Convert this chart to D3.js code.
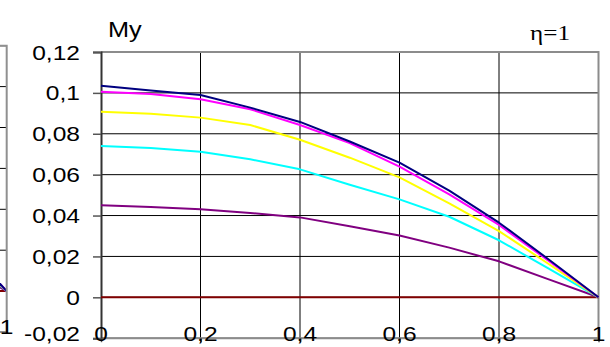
<!DOCTYPE html>
<html>
<head>
<meta charset="utf-8">
<script src="https://cdn.jsdelivr.net/npm/d3@7"></script>
<style>
  html, body { margin: 0; padding: 0; background: #fff; }
  svg { display: block; }
</style>
</head>
<body>
<svg id="chart" width="610" height="347"></svg>
<script>
// Bending moment My along the span, plate with eta = 1
const xs = [0, 0.1, 0.2, 0.3, 0.4, 0.5, 0.6, 0.7, 0.8, 0.9, 1];
const myNavy    = [0.1035, 0.1012, 0.0990, 0.0928, 0.0858, 0.0762, 0.0659, 0.0522, 0.0365, 0.0185, 0];
const myMagenta = [0.1005, 0.0994, 0.0969, 0.0920, 0.0843, 0.0754, 0.0639, 0.0504, 0.0354, 0.0178, 0];
const myYellow  = [0.0908, 0.0898, 0.0879, 0.0843, 0.0771, 0.0683, 0.0587, 0.0460, 0.0324, 0.0163, 0];
const myCyan    = [0.0740, 0.0730, 0.0712, 0.0675, 0.0626, 0.0551, 0.0479, 0.0394, 0.0279, 0.0140, 0];
const myPurple  = [0.0450, 0.0442, 0.0431, 0.0413, 0.0391, 0.0348, 0.0302, 0.0243, 0.0176, 0.0088, 0];
const myZero    = [0, 0, 0, 0, 0, 0, 0, 0, 0, 0, 0];

// Right end of the neighbouring panel (only its last stretch is in view)
const nbXs      = [0.9, 1];
const nbNavy    = [0.027, 0];
const nbMagenta = [0.026, 0];
const nbYellow  = [0.024, 0];
const nbCyan    = [0.021, 0];
const nbPurple  = [0.014, 0];
const nbZero    = [0, 0];

const xTicks = [0, 0.2, 0.4, 0.6, 0.8, 1];
const xTickLabels = ["0", "0,2", "0,4", "0,6", "0,8", "1"];
const yTicks = [-0.02, 0, 0.02, 0.04, 0.06, 0.08, 0.1, 0.12];
const yTickLabels = ["-0,02", "0", "0,02", "0,04", "0,06", "0,08", "0,1", "0,12"];

const seriesColors = ["#800000", "#800080", "#00FFFF", "#FFFF00", "#FF00FF", "#000080"];
const mainSeries = [myZero, myPurple, myCyan, myYellow, myMagenta, myNavy];
const nbSeries = [nbZero, nbPurple, nbCyan, nbYellow, nbMagenta, nbNavy];

const svg = d3.select("#chart");
const SANS = "Liberation Sans, Arial, sans-serif";
const SERIF = "Liberation Serif, Times New Roman, serif";
const SX = 1.17; // labels are drawn slightly wide

function label(g, x, y, txt, anchor, size, family, sx) {
  return g.append("text")
    .attr("transform", `translate(${x},${y}) scale(${sx},1)`)
    .attr("text-anchor", anchor)
    .attr("font-family", family)
    .attr("font-size", size)
    .attr("fill", "#000")
    .text(txt);
}

// ---------- neighbouring panel ----------
{
  const x = d3.scaleLinear().domain([0, 1]).range([6.7 - 497.5, 6.7]);
  const y = d3.scaleLinear().domain([-0.02, 0.12]).range([332, 45.7]);
  const g = svg.append("g");
  svg.append("clipPath").attr("id", "nbclip")
    .append("rect").attr("x", 0).attr("y", y(0.12))
    .attr("width", x(1)).attr("height", y(-0.02) - y(0.12));
  const inner = g.append("g").attr("clip-path", "url(#nbclip)");
  inner.selectAll("line").data(yTicks).join("line")
    .attr("x1", x(0)).attr("x2", x(1))
    .attr("y1", d => y(d)).attr("y2", d => y(d))
    .attr("stroke", "#000").attr("stroke-width", 1);
  const line = d3.line().x((d, i) => x(nbXs[i])).y(d => y(d));
  nbSeries.forEach((s, k) => {
    inner.append("path").attr("d", line(s)).attr("fill", "none")
      .attr("stroke", seriesColors[k]).attr("stroke-width", 2);
  });
  g.append("path")
    .attr("d", `M${x(0)},${y(0.12)} H${x(1)} V${y(-0.02)} H${x(0)}`)
    .attr("fill", "none").attr("stroke", "#909090").attr("stroke-width", 2);
  label(g, x(1), 334, "1", "middle", 21, SANS, SX);
}

// ---------- main panel ----------
const x = d3.scaleLinear().domain([0, 1]).range([101, 598.5]);
const y = d3.scaleLinear().domain([-0.02, 0.12]).range([338.2, 52]);
const g = svg.append("g");

// horizontal gridlines
g.selectAll("line.hg").data(yTicks).join("line").attr("class", "hg")
  .attr("x1", x(0)).attr("x2", x(1))
  .attr("y1", d => y(d)).attr("y2", d => y(d))
  .attr("stroke", "#000").attr("stroke-width", 1);

// vertical gridlines
g.selectAll("line.vg").data(xTicks.slice(1, -1)).join("line").attr("class", "vg")
  .attr("x1", d => x(d)).attr("x2", d => x(d))
  .attr("y1", y(0.12)).attr("y2", y(-0.02))
  .attr("stroke", "#000").attr("stroke-width", 1);

// plot frame (top, right, bottom)
g.append("path")
  .attr("d", `M${x(0)},${y(0.12)} H${x(1)} V${y(-0.02)} H${x(0)}`)
  .attr("fill", "none").attr("stroke", "#8c8c8c").attr("stroke-width", 2);

// y axis with ticks
const yAxis = d3.axisLeft(y).tickValues(yTicks).tickSize(8).tickFormat("");
const ya = g.append("g").attr("transform", `translate(${x(0)},0)`).call(yAxis);
ya.select(".domain").attr("stroke", "#333").attr("stroke-width", 2);
ya.selectAll(".tick line").attr("stroke", "#555").attr("stroke-width", 1.5);

// x axis ticks below the frame
const xAxis = d3.axisBottom(x).tickValues(xTicks).tickSize(4).tickFormat("");
const xa = g.append("g").attr("transform", `translate(0,${y(-0.02)})`).call(xAxis);
xa.select(".domain").remove();
xa.selectAll(".tick line").attr("stroke", "#555").attr("stroke-width", 1.5);

// series
const line = d3.line().x((d, i) => x(xs[i])).y(d => y(d));
mainSeries.forEach((s, k) => {
  g.append("path").attr("d", line(s)).attr("fill", "none")
    .attr("stroke", seriesColors[k]).attr("stroke-width", 2)
    .attr("stroke-linejoin", "round");
});

// tick labels (the lowest one is kept inside the canvas)
yTicks.forEach((v, i) => {
  label(g, 80, Math.min(y(v) + 7.5, 340.5), yTickLabels[i], "end", 21, SANS, SX);
});
xTicks.forEach((v, i) => {
  label(g, x(v), 340.5, xTickLabels[i], "middle", 21, SANS, SX);
});

// titles
label(g, 108, 36.7, "My", "start", 22, SANS, 1.15);
label(g, 530, 40, "η=1", "start", 21, SERIF, 1.2);
</script>
</body>
</html>
